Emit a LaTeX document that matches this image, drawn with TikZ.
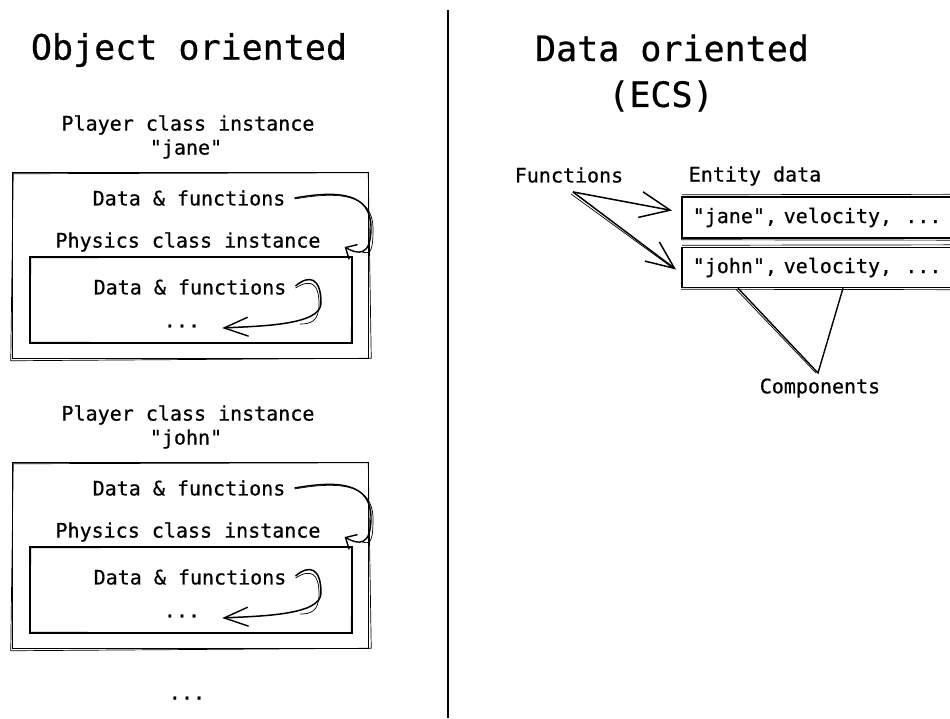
\documentclass[tikz,border=0pt]{standalone}
\usepackage{fontspec}
\setmainfont{DejaVu Sans Mono}[Ligatures=TeXOff,FakeBold=0.6]
\usetikzlibrary{arrows.meta,calc}
\begin{document}
\begin{tikzpicture}[x=1pt,y=-1pt,
  txt/.style={font=\fontsize{20}{24}\selectfont, inner sep=0pt},
  ttl/.style={font=\fontsize{35}{42}\selectfont, inner sep=0pt},
  skbox/.style={draw, line width=1.5pt, inner sep=0pt},
  sk/.style={line width=0.7pt},
  arr/.style={line width=1.4pt, -{Straight Barb[length=9pt,width=17pt,line width=1.4pt]}},
  arrbig/.style={line width=1.5pt, -{Straight Barb[length=30pt,width=26pt,line width=1.5pt]}},
  ln/.style={line width=1.4pt}]
\useasboundingbox (0,0) rectangle (950,718);
\clip (0,0) rectangle (950,718);

% divider
\draw[line width=1.6pt] (448,10) -- (448,718);

% ---------- left: object oriented ----------
\node[ttl] (tobj) at (189,50) {Object oriented};

\foreach \k/\nm/\dy in {1/jane/0, 2/john/290} {
  \node[txt] (pl\k) at (188,{125+\dy}) {Player class instance};
  \node[txt] (nm\k) at (186,{149+\dy}) {"\nm"};
  \node[skbox, minimum width=356, minimum height=186] (ob\k) at (190.5,{265.5+\dy}) {};
  \draw[sk] ($(ob\k.north west)+(1.5,2)$) -- ($(ob\k.north east)+(-1,1)$) -- ($(ob\k.south east)+(2,-1)$) -- ($(ob\k.south west)+(-1,1.5)$) -- cycle;
  \node[txt] (df\k) at (189,{198+\dy}) {Data \& functions};
  \node[txt] (pc\k) at (188,{242+\dy}) {Physics class instance};
  \node[skbox, minimum width=322, minimum height=86] (ib\k) at (191,{300+\dy}) {};
  \draw[sk] ($(ib\k.north west)+(1.5,1.5)$) -- ($(ib\k.north east)+(-1,1)$) -- ($(ib\k.south east)+(-1.5,-1)$) -- ($(ib\k.south west)+(1,-1.5)$) -- cycle;
  \node[txt] (di\k) at (190,{287+\dy}) {Data \& functions};
  \node[txt] (dt\k) at (182,{326+\dy}) {...};
  % outer arrow
  \draw[arr] ([xshift=9]df\k.east) .. controls +(45,-8) and +(0,-35) .. (371,{228+\dy})
     .. controls +(0,28) and +(14,8) .. ([shift={(24,5)}]pc\k.east);
  \draw[sk] ([xshift=9,yshift=-1]df\k.east) .. controls +(45,-8) and +(0,-35) .. (373,{229+\dy})
     .. controls +(0,24) and +(8,2) .. (362,{252+\dy});
  % inner arrow
  \draw[arrbig, -{Straight Barb[length=24pt,width=19pt,line width=1.4pt]}] ([xshift=9,yshift=1]di\k.east) .. controls +(14,-12) and +(0,-25) .. (321,{303+\dy})
     .. controls +(0,22) and +(40,-2) .. ([xshift=22,yshift=-2]dt\k.east);
  \draw[sk] ([xshift=9,yshift=-1]di\k.east) .. controls +(16,-10) and +(0,-20) .. (319,{304+\dy})
     .. controls +(0,18) and +(10,0) .. (300,{324+\dy});
}
\node[txt] (dtall) at (187,{698}) {...};

% ---------- right: data oriented ----------
\node[ttl] (tdat) at (672,48) {Data oriented};
\node[ttl] (tecs) at (661,96) {(ECS)};

\node[txt] (fn) at (569,175) {Functions};
\node[txt] (ed) at (755,176) {Entity data};

\node[skbox, anchor=west, minimum height=41, text width=300, inner xsep=11, align=left,
      font=\fontsize{20}{24}\selectfont] (jane) at (681,217.5) {"jane", velocity,\ \ ...};
\draw[sk] ($(jane.north west)+(1,-1.5)$) -- ($(jane.north east)+(0,-2)$);
\draw[sk] ($(jane.south west)+(0,1)$) -- ($(jane.south east)+(0,1.5)$);
\draw[sk] ($(jane.north west)+(1.5,1)$) -- ($(jane.south west)+(1,-1)$);
\node[skbox, anchor=west, minimum height=40, text width=300, inner xsep=11, align=left,
      font=\fontsize{20}{24}\selectfont] (john) at (681,267.5) {"john", velocity,\ \ ...};
\draw[sk] ($(john.north west)+(1,-1.5)$) -- ($(john.north east)+(0,-2)$);
\draw[sk] ($(john.south west)+(0,1)$) -- ($(john.south east)+(0,1.5)$);
\draw[sk] ($(john.north west)+(1.5,1)$) -- ($(john.south west)+(1,-1)$);

\coordinate (fsrc) at ([shift={(4,9)}]fn.south);
\draw[arrbig] (fsrc) -- ([shift={(-9,-7)}]jane.west);
\draw[arrbig, -{Straight Barb[length=28pt,width=24pt,line width=1.5pt]}] (fsrc) -- ([shift={(-5,2)}]john.west);
\draw[sk] ([shift={(-2,2)}]fsrc) -- ([shift={(-9,0)}]john.west);

\node[txt] (comp) at (820,388) {Components};
\coordinate (capex) at (818,373);
\draw[ln] ([xshift=57]john.south west) -- (capex) -- ([xshift=162]john.south west);
\draw[sk] ([xshift=55,yshift=-1]john.south west) -- ([xshift=-2]capex);
\end{tikzpicture}
\end{document}
